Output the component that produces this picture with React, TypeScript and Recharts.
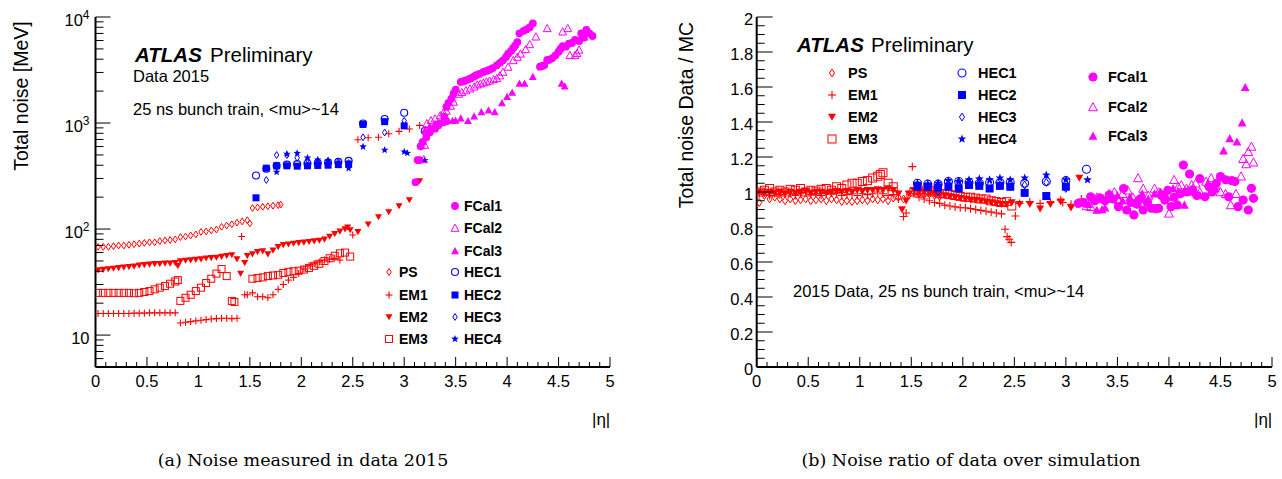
import React from 'react';
import { ScatterChart, Scatter, XAxis, YAxis } from 'recharts';

type Pt = [number, number];

// ---- (a) total noise [MeV] vs |eta| ----
const psNoise: Pt[] = [
  [0.025, 68], [0.075, 68], [0.125, 68], [0.175, 69], [0.225, 70], [0.275, 70], [0.325, 71], [0.375, 72],
  [0.425, 73], [0.475, 74], [0.525, 75], [0.575, 75], [0.625, 77], [0.675, 78], [0.725, 79], [0.775, 80],
  [0.825, 84], [0.875, 85], [0.925, 87], [0.975, 89], [1.025, 94], [1.075, 95], [1.125, 97], [1.175, 99],
  [1.225, 105], [1.275, 108], [1.325, 111], [1.375, 115], [1.425, 118], [1.475, 121], [1.5, 113],
  [1.525, 158], [1.575, 160], [1.625, 162], [1.675, 164], [1.725, 166], [1.775, 168], [1.8, 170],
];
const em1Noise: Pt[] = [
  [0.025, 16], [0.075, 16], [0.125, 16], [0.175, 16], [0.225, 16], [0.275, 16], [0.325, 16], [0.375, 16.1],
  [0.425, 16.1], [0.475, 16.1], [0.525, 16.2], [0.575, 16.2], [0.625, 16.2], [0.675, 16.2], [0.725, 16.2], [0.775, 16.2],
  [0.825, 13], [0.875, 13.2], [0.925, 13.4], [0.975, 13.6], [1.025, 13.8], [1.075, 14], [1.125, 14.2], [1.175, 14.3],
  [1.225, 14.4], [1.275, 14.4], [1.325, 14.3], [1.375, 14.4], [1.42, 85],
  [1.45, 24], [1.475, 24], [1.525, 25], [1.575, 23], [1.625, 23], [1.675, 22.5], [1.725, 24], [1.775, 27],
  [1.825, 30], [1.875, 33], [1.925, 35], [1.975, 38], [2.025, 42], [2.075, 45], [2.125, 47], [2.175, 49],
  [2.225, 51], [2.275, 52], [2.325, 53], [2.375, 51], [2.5, 88],
  [2.55, 695], [2.65, 727], [2.75, 735], [2.85, 793], [2.95, 835], [3.05, 877], [3.15, 950],
];
const em2Noise: Pt[] = [
  [0.025, 41], [0.075, 41.5], [0.125, 42], [0.175, 42.5], [0.225, 43], [0.275, 43.5], [0.325, 44], [0.375, 44.5],
  [0.425, 45.5], [0.475, 46], [0.525, 46.5], [0.575, 47], [0.625, 47], [0.675, 47.5], [0.725, 47.5], [0.775, 48],
  [0.8, 45], [0.825, 50], [0.875, 50.5], [0.925, 51], [0.975, 51.5], [1.025, 52], [1.075, 53], [1.125, 53.5],
  [1.175, 54], [1.225, 55], [1.275, 56], [1.325, 57], [1.375, 52], [1.41, 38], [1.45, 48], [1.475, 56],
  [1.525, 58], [1.575, 61], [1.625, 62], [1.675, 58], [1.725, 63], [1.775, 68], [1.825, 71], [1.875, 72],
  [1.925, 73], [1.975, 74], [2.025, 75], [2.075, 76], [2.125, 77], [2.175, 78], [2.225, 80], [2.275, 85],
  [2.325, 90], [2.375, 95], [2.425, 100], [2.45, 104], [2.475, 98], [2.55, 94],
  [2.65, 111], [2.75, 130], [2.85, 145], [2.95, 165], [3.05, 188], [3.15, 284],
];
const em3Noise: Pt[] = [
  [0.025, 25], [0.075, 25], [0.125, 25], [0.175, 25], [0.225, 25], [0.275, 25], [0.325, 25], [0.375, 24.8],
  [0.425, 25], [0.475, 25.5], [0.525, 26], [0.575, 27], [0.625, 28], [0.675, 29], [0.725, 30.5], [0.775, 32],
  [0.8, 33], [0.825, 21], [0.875, 22.5], [0.925, 24], [0.975, 26], [1.025, 28], [1.075, 31], [1.125, 34],
  [1.175, 38], [1.225, 42], [1.275, 36], [1.325, 21], [1.35, 20.5],
  [1.525, 34], [1.575, 34.5], [1.625, 35], [1.675, 36], [1.725, 36.5], [1.775, 37], [1.825, 38.5], [1.875, 39.5],
  [1.925, 40], [1.975, 40.5], [2.025, 41.5], [2.075, 43], [2.125, 45], [2.175, 47], [2.225, 50], [2.275, 53],
  [2.325, 56], [2.375, 59], [2.425, 60], [2.475, 55],
];
const hec1Noise: Pt[] = [
  [1.56, 320], [1.66, 370], [1.76, 395], [1.86, 405], [1.96, 410], [2.06, 415], [2.16, 420], [2.26, 425],
  [2.36, 430], [2.46, 440], [2.6, 990], [2.81, 1090], [3.0, 1250], [3.2, 840],
];
const hec2Noise: Pt[] = [
  [1.56, 197], [1.66, 375], [1.76, 395], [1.86, 395], [1.96, 392], [2.06, 395], [2.16, 398], [2.26, 400],
  [2.36, 405], [2.46, 410], [2.6, 970], [2.81, 1030], [3.0, 940],
];
const hec3Noise: Pt[] = [
  [1.66, 290], [1.76, 499], [1.86, 499], [1.96, 470], [2.06, 450], [2.16, 440], [2.26, 440], [2.36, 430],
  [2.46, 420], [2.6, 733], [2.81, 813], [3.0, 1050],
];
const hec4Noise: Pt[] = [
  [1.76, 345], [1.86, 510], [1.96, 520], [2.06, 470], [2.16, 450], [2.26, 440], [2.36, 420], [2.46, 375],
  [2.6, 598], [2.81, 556], [3.0, 535], [3.03, 520], [3.2, 445],
];
const fcal1Noise: Pt[] = [
  [3.11, 277], [3.13, 447], [3.15, 447], [3.16, 604], [3.18, 663], [3.215, 736], [3.25, 820], [3.3, 885],
  [3.33, 950], [3.345, 990], [3.39, 1140], [3.41, 1420], [3.43, 1550], [3.46, 1700], [3.48, 1900], [3.5, 2060],
  [3.55, 2440], [3.58, 2480], [3.6, 2530], [3.63, 2600], [3.65, 2650], [3.68, 2750], [3.7, 2830], [3.73, 2900],
  [3.77, 3030], [3.8, 3100], [3.83, 3180], [3.86, 3300], [3.9, 3500], [3.93, 3700], [3.96, 3900], [3.99, 4200],
  [4.01, 4500], [4.04, 4800], [4.06, 5100], [4.08, 5400], [4.1, 5800], [4.12, 7020], [4.16, 7400], [4.19, 7650],
  [4.22, 8000], [4.25, 8710], [4.32, 3400], [4.34, 3450], [4.36, 3500], [4.39, 3930], [4.41, 3950], [4.44, 4100],
  [4.47, 4350], [4.5, 4700], [4.52, 5030], [4.54, 5300], [4.57, 5250], [4.6, 5600], [4.63, 5690], [4.66, 6070],
  [4.7, 5940], [4.72, 7000], [4.74, 6380], [4.77, 7540], [4.8, 7000], [4.83, 6620],
];
const fcal2Noise: Pt[] = [
  [3.19, 455], [3.2, 620], [3.22, 990], [3.26, 1060], [3.3, 1100], [3.35, 1180], [3.38, 1250], [3.41, 1300],
  [3.45, 1450], [3.48, 1580], [3.53, 1880], [3.56, 1950], [3.6, 2030], [3.64, 2110], [3.68, 2200], [3.71, 2300],
  [3.74, 2350], [3.77, 2400], [3.8, 2450], [3.83, 2500], [3.87, 2580], [3.9, 2640], [3.93, 2800], [3.96, 3030],
  [4.01, 3380], [4.06, 3900], [4.1, 4200], [4.13, 4500], [4.18, 4950], [4.22, 5520], [4.28, 6520], [4.39, 7820],
  [4.54, 7270], [4.59, 7820], [4.61, 4350], [4.66, 4350], [4.68, 4550], [4.7, 4900], [4.75, 6500], [4.78, 7480],
];
const fcal3Noise: Pt[] = [
  [3.2, 850], [3.25, 940], [3.3, 990], [3.34, 1000], [3.37, 1010], [3.4, 1030], [3.43, 1050], [3.47, 1055],
  [3.5, 1060], [3.55, 1110], [3.62, 1050], [3.68, 1160], [3.75, 1270], [3.82, 1320], [3.88, 1270], [3.95, 1550],
  [4.0, 1770], [4.05, 1940], [4.12, 2360], [4.17, 2360], [4.25, 2740], [4.53, 2360], [4.56, 2230],
];

// ---- (b) total noise data / MC vs |eta| ----
const psRatio: Pt[] = [
  [0.025, 0.94], [0.075, 0.98], [0.125, 0.96], [0.175, 0.97], [0.225, 0.96], [0.275, 0.95], [0.325, 0.96], [0.375, 0.95],
  [0.425, 0.955], [0.475, 0.96], [0.525, 0.95], [0.575, 0.955], [0.625, 0.96], [0.675, 0.95], [0.725, 0.96], [0.775, 0.955],
  [0.825, 0.945], [0.875, 0.95], [0.925, 0.945], [0.975, 0.95], [1.025, 0.955], [1.075, 0.95], [1.125, 0.96], [1.175, 0.955],
  [1.225, 0.96], [1.275, 0.95], [1.325, 0.965], [1.375, 0.97], [1.425, 0.96], [1.475, 0.98],
  [1.525, 1.0], [1.575, 0.99], [1.625, 0.985], [1.675, 0.99], [1.725, 0.98], [1.775, 0.975],
];
const em1Ratio: Pt[] = [
  [0.025, 0.99], [0.075, 1.0], [0.125, 0.98], [0.175, 0.99], [0.225, 0.985], [0.275, 1.0], [0.325, 0.99], [0.375, 0.98],
  [0.425, 0.99], [0.475, 1.0], [0.525, 0.985], [0.575, 0.99], [0.625, 0.98], [0.675, 0.99], [0.725, 0.995], [0.775, 0.99],
  [0.825, 0.98], [0.875, 0.985], [0.925, 0.99], [0.975, 0.98], [1.025, 0.99], [1.075, 0.985], [1.125, 0.99], [1.175, 1.0],
  [1.225, 0.99], [1.275, 0.98], [1.325, 0.985], [1.375, 0.96], [1.425, 0.86], [1.45, 0.88], [1.51, 1.145],
  [1.525, 0.99], [1.575, 0.97], [1.625, 0.96], [1.675, 0.95], [1.725, 0.94], [1.775, 0.935], [1.825, 0.925], [1.875, 0.92],
  [1.925, 0.915], [1.975, 0.91], [2.025, 0.91], [2.075, 0.905], [2.125, 0.9], [2.175, 0.895], [2.225, 0.89], [2.275, 0.885],
  [2.325, 0.88], [2.375, 0.875], [2.41, 0.787], [2.43, 0.745], [2.45, 0.73], [2.47, 0.712], [2.51, 0.863],
  [2.55, 0.935], [2.65, 0.945], [2.75, 0.935], [2.85, 0.94], [2.95, 0.955], [2.97, 0.94], [3.05, 0.93], [3.15, 0.96],
];
const em2Ratio: Pt[] = [
  [0.025, 1.0], [0.075, 0.99], [0.125, 1.0], [0.175, 0.995], [0.225, 1.0], [0.275, 0.99], [0.325, 1.0], [0.375, 0.995],
  [0.425, 1.0], [0.475, 1.005], [0.525, 0.995], [0.575, 1.0], [0.625, 1.0], [0.675, 0.995], [0.725, 1.0], [0.775, 1.005],
  [0.825, 1.0], [0.875, 1.005], [0.925, 1.0], [0.975, 1.01], [1.025, 1.005], [1.075, 1.01], [1.125, 1.01], [1.175, 1.015],
  [1.225, 1.01], [1.275, 1.02], [1.325, 1.01], [1.375, 0.99], [1.41, 0.9], [1.45, 0.95], [1.475, 0.99],
  [1.525, 1.01], [1.575, 1.0], [1.625, 1.0], [1.675, 0.995], [1.725, 0.99], [1.775, 0.985], [1.825, 0.98], [1.875, 0.975],
  [1.925, 0.97], [1.975, 0.965], [2.025, 0.96], [2.075, 0.955], [2.125, 0.955], [2.175, 0.95], [2.225, 0.945], [2.275, 0.94],
  [2.325, 0.935], [2.375, 0.93], [2.425, 0.93], [2.475, 0.94],
  [2.55, 0.93], [2.65, 0.93], [2.75, 0.905], [2.85, 0.93], [2.95, 0.945], [3.05, 0.91], [3.13, 1.08],
];
const em3Ratio: Pt[] = [
  [0.025, 1.0], [0.075, 1.01], [0.125, 1.02], [0.175, 1.0], [0.225, 1.01], [0.275, 1.0], [0.325, 1.015], [0.375, 1.01],
  [0.425, 1.02], [0.475, 1.0], [0.525, 1.01], [0.575, 1.005], [0.625, 1.015], [0.675, 1.02], [0.725, 1.01], [0.775, 1.03],
  [0.825, 1.02], [0.875, 1.04], [0.925, 1.05], [0.975, 1.05], [1.025, 1.06], [1.075, 1.065], [1.125, 1.08], [1.175, 1.09],
  [1.2, 1.1], [1.225, 1.11], [1.275, 1.05], [1.325, 1.03],
  [1.525, 1.0], [1.575, 1.01], [1.625, 1.0], [1.675, 1.01], [1.725, 1.0], [1.775, 0.99], [1.825, 0.99], [1.875, 0.985],
  [1.925, 0.98], [1.975, 0.975], [2.025, 0.97], [2.075, 0.97], [2.125, 0.965], [2.175, 0.96], [2.225, 0.96], [2.275, 0.95],
  [2.325, 0.945], [2.375, 0.94], [2.425, 0.945], [2.475, 0.92],
];
const hec1Ratio: Pt[] = [
  [1.56, 1.05], [1.66, 1.045], [1.76, 1.045], [1.86, 1.06], [1.96, 1.06], [2.06, 1.055], [2.16, 1.05], [2.26, 1.055],
  [2.36, 1.055], [2.46, 1.055], [2.6, 1.05], [2.81, 1.06], [3.0, 1.065], [3.2, 1.13],
];
const hec2Ratio: Pt[] = [
  [1.56, 1.03], [1.66, 1.03], [1.76, 1.025], [1.86, 1.03], [1.96, 1.02], [2.06, 1.04], [2.16, 1.035], [2.26, 1.02],
  [2.36, 1.035], [2.46, 1.03], [2.6, 0.995], [2.81, 0.977], [3.0, 1.03],
];
const hec3Ratio: Pt[] = [
  [1.56, 1.04], [1.66, 1.035], [1.76, 1.0], [1.86, 1.04], [1.96, 1.06], [2.06, 1.04], [2.16, 1.04], [2.26, 1.04],
  [2.36, 1.04], [2.46, 1.03], [2.6, 1.04], [2.81, 1.055], [3.0, 1.02],
];
const hec4Ratio: Pt[] = [
  [1.56, 1.05], [1.66, 1.045], [1.76, 1.05], [1.86, 1.065], [1.96, 1.06], [2.06, 1.07], [2.16, 1.075], [2.26, 1.07],
  [2.36, 1.08], [2.46, 1.07], [2.6, 1.08], [2.81, 1.097], [3.0, 1.07], [3.21, 1.069],
];
const fcal1Ratio: Pt[] = [
  [3.12, 0.935], [3.17, 0.94], [3.24, 0.973], [3.28, 0.95], [3.33, 0.966], [3.38, 0.95], [3.42, 0.983], [3.46, 0.96],
  [3.51, 0.916], [3.56, 1.02], [3.59, 0.897], [3.63, 0.94], [3.66, 0.869], [3.69, 0.93], [3.72, 0.96], [3.75, 0.897],
  [3.79, 0.94], [3.83, 0.907], [3.87, 0.905], [3.9, 0.907], [3.93, 0.98], [3.96, 0.954], [3.99, 1.01], [4.02, 0.916],
  [4.05, 0.97], [4.08, 0.926], [4.11, 0.99], [4.14, 1.154], [4.17, 1.0], [4.2, 1.103], [4.23, 1.012], [4.27, 0.98],
  [4.3, 1.076], [4.35, 0.973], [4.39, 1.03], [4.42, 1.0], [4.46, 1.05], [4.5, 1.088], [4.55, 1.07], [4.58, 0.973],
  [4.61, 1.065], [4.64, 1.06], [4.67, 0.916], [4.72, 0.954], [4.77, 0.897], [4.8, 1.021], [4.82, 0.964],
];
const fcal2Ratio: Pt[] = [
  [3.2, 0.92], [3.24, 0.916], [3.3, 0.97], [3.36, 0.96], [3.42, 0.99], [3.47, 1.0], [3.51, 0.954], [3.55, 0.99],
  [3.6, 1.01], [3.65, 0.97], [3.7, 1.08], [3.75, 1.02], [3.8, 0.98], [3.86, 1.02], [3.9, 1.0], [3.94, 0.983],
  [4.0, 0.878], [4.05, 1.07], [4.09, 1.03], [4.12, 1.04], [4.17, 1.02], [4.22, 1.04], [4.26, 1.05], [4.3, 1.0],
  [4.36, 1.06], [4.41, 1.08], [4.45, 1.04], [4.5, 1.0], [4.55, 0.99], [4.6, 0.926], [4.65, 0.99], [4.7, 1.09],
  [4.72, 1.19], [4.75, 1.16], [4.77, 1.23], [4.8, 1.26], [4.82, 1.17],
];
const fcal3Ratio: Pt[] = [
  [3.22, 0.93], [3.3, 0.897], [3.35, 0.9], [3.38, 0.91], [3.45, 0.96], [3.5, 0.98], [3.55, 0.95], [3.62, 0.97],
  [3.68, 0.95], [3.74, 0.99], [3.8, 0.96], [3.86, 0.99], [3.92, 1.0], [3.98, 0.97], [4.04, 1.02], [4.09, 1.0],
  [4.15, 0.926], [4.22, 1.0], [4.3, 0.98], [4.38, 1.05], [4.45, 1.02], [4.53, 1.236], [4.59, 1.306], [4.66, 1.287],
  [4.71, 1.396], [4.74, 1.598],
];

// ---- axes ----
const etaTicks = Array.from({ length: 51 }, (_, i) => i / 10);
const logTicks = [
  5, 6, 7, 8, 9, 10, 20, 30, 40, 50, 60, 70, 80, 90, 100, 200, 300, 400, 500, 600, 700, 800, 900,
  1000, 2000, 3000, 4000, 5000, 6000, 7000, 8000, 9000, 10000,
];
const ratioTicks = Array.from({ length: 41 }, (_, i) => i / 20);

const RED = '#ff0000';
const BLUE = '#0000ff';
const MAG = '#ff00ff';
const FONT = "'Liberation Sans', Arial, Helvetica, sans-serif";

type Kind =
  | 'diamondOpen' | 'plus' | 'triDown' | 'squareOpen' | 'circleOpen'
  | 'squareFilled' | 'star' | 'circleFilled' | 'triOpen' | 'triFilled';

interface Series { name: string; kind: Kind; color: string; }

const detectors: Series[] = [
  { name: 'PS', kind: 'diamondOpen', color: RED },
  { name: 'EM1', kind: 'plus', color: RED },
  { name: 'EM2', kind: 'triDown', color: RED },
  { name: 'EM3', kind: 'squareOpen', color: RED },
  { name: 'HEC1', kind: 'circleOpen', color: BLUE },
  { name: 'HEC2', kind: 'squareFilled', color: BLUE },
  { name: 'HEC3', kind: 'diamondOpen', color: BLUE },
  { name: 'HEC4', kind: 'star', color: BLUE },
  { name: 'FCal1', kind: 'circleFilled', color: MAG },
  { name: 'FCal2', kind: 'triOpen', color: MAG },
  { name: 'FCal3', kind: 'triFilled', color: MAG },
];

const noiseData = [psNoise, em1Noise, em2Noise, em3Noise, hec1Noise, hec2Noise, hec3Noise, hec4Noise, fcal1Noise, fcal2Noise, fcal3Noise];
const ratioData = [psRatio, em1Ratio, em2Ratio, em3Ratio, hec1Ratio, hec2Ratio, hec3Ratio, hec4Ratio, fcal1Ratio, fcal2Ratio, fcal3Ratio];

const rows = (pts: Pt[]) => pts.map(([eta, v]) => ({ eta, v }));

function Marker({ kind, cx, cy, color, r }: { kind: Kind; cx: number; cy: number; color: string; r: number }) {
  switch (kind) {
    case 'diamondOpen':
      return (
        <polygon
          points={`${cx},${cy - r * 1.15} ${cx + r * 0.75},${cy} ${cx},${cy + r * 1.15} ${cx - r * 0.75},${cy}`}
          fill="none" stroke={color} strokeWidth={1}
        />
      );
    case 'plus':
      return (
        <g stroke={color} strokeWidth={1.1}>
          <line x1={cx - r} x2={cx + r} y1={cy} y2={cy} />
          <line x1={cx} x2={cx} y1={cy - r} y2={cy + r} />
        </g>
      );
    case 'triDown':
      return <polygon points={`${cx - r},${cy - r * 0.8} ${cx + r},${cy - r * 0.8} ${cx},${cy + r * 0.95}`} fill={color} />;
    case 'squareOpen':
      return <rect x={cx - r} y={cy - r} width={2 * r} height={2 * r} fill="none" stroke={color} strokeWidth={1} />;
    case 'circleOpen':
      return <circle cx={cx} cy={cy} r={r} fill="none" stroke={color} strokeWidth={1.1} />;
    case 'squareFilled':
      return <rect x={cx - r} y={cy - r} width={2 * r} height={2 * r} fill={color} />;
    case 'star': {
      const pts: string[] = [];
      for (let i = 0; i < 10; i++) {
        const rr = i % 2 === 0 ? r * 1.05 : r * 0.45;
        const a = -Math.PI / 2 + (i * Math.PI) / 5;
        pts.push(`${cx + rr * Math.cos(a)},${cy + rr * Math.sin(a)}`);
      }
      return <polygon points={pts.join(' ')} fill={color} />;
    }
    case 'circleFilled':
      return <circle cx={cx} cy={cy} r={r} fill={color} />;
    case 'triOpen':
      return (
        <polygon points={`${cx - r},${cy + r * 0.85} ${cx + r},${cy + r * 0.85} ${cx},${cy - r}`}
          fill="none" stroke={color} strokeWidth={1} />
      );
    case 'triFilled':
      return <polygon points={`${cx - r},${cy + r * 0.85} ${cx + r},${cy + r * 0.85} ${cx},${cy - r}`} fill={color} />;
    default:
      return null;
  }
}

const markerSize = (kind: Kind, big: boolean) => {
  const base = big ? 4 : 3.5;
  if (kind === 'diamondOpen') return base * 0.85;
  if (kind === 'star') return base + 0.3;
  if (kind === 'circleFilled') return big ? 4.6 : 3.9;
  if (kind === 'triOpen' || kind === 'triFilled') return base + 0.4;
  return base;
};

const fmt = (v: number) => String(+v.toFixed(2));

function EtaTick(props: any) {
  const { x, y, payload, top } = props;
  const v = payload.value as number;
  const major = Math.abs(v * 2 - Math.round(v * 2)) < 1e-6;
  const len = major ? 10 : 5;
  return (
    <g>
      <line x1={x} x2={x} y1={y} y2={top ? y + len : y - len} stroke="#000" strokeWidth={1} />
      {!top && major && (
        <text x={x} y={y + 20} textAnchor="middle" fontSize={16.5} fontFamily={FONT} fill="#000">
          {fmt(v)}
        </text>
      )}
    </g>
  );
}

function LogTick(props: any) {
  const { x, y, payload, right } = props;
  const v = payload.value as number;
  const e = Math.log10(v);
  const major = Math.abs(e - Math.round(e)) < 1e-6;
  const len = major ? 15 : 8;
  return (
    <g>
      <line x1={x} x2={right ? x - len : x + len} y1={y} y2={y} stroke="#000" strokeWidth={1} />
      {!right && major && (
        <text x={x - 6} y={y + 8.5} textAnchor="end" fontSize={16.5} fontFamily={FONT} fill="#000">
          10
          {Math.round(e) > 1 && (
            <tspan fontSize={12} dy={-7}>
              {Math.round(e)}
            </tspan>
          )}
        </text>
      )}
    </g>
  );
}

function RatioTick(props: any) {
  const { x, y, payload, right } = props;
  const v = payload.value as number;
  const major = Math.abs(v * 5 - Math.round(v * 5)) < 1e-6;
  const len = major ? 16 : 8;
  return (
    <g>
      <line x1={x} x2={right ? x - len : x + len} y1={y} y2={y} stroke="#000" strokeWidth={1} />
      {!right && major && (
        <text x={x - 3.5} y={y + 7.5} textAnchor="end" fontSize={16.5} fontFamily={FONT} fill="#000">
          {fmt(v)}
        </text>
      )}
    </g>
  );
}

const frame = { stroke: '#000', strokeWidth: 2 };

function Panel({ data, log, big, yWidth }: { data: Pt[][]; log: boolean; big: boolean; yWidth: number }) {
  const YTick = log ? LogTick : RatioTick;
  const yProps = log
    ? { scale: 'log' as const, domain: [5, 10000], ticks: logTicks }
    : { scale: 'linear' as const, domain: [0, 2], ticks: ratioTicks };
  return (
    <ScatterChart width={log ? 620 : 621} height={400} margin={{ top: 17, right: 10, bottom: 0, left: 0 }}>
      <XAxis
        dataKey="eta" type="number" domain={[0, 5]} ticks={etaTicks} interval={0} height={33}
        tickSize={0} tickMargin={0} tickLine={false} axisLine={frame} allowDataOverflow
        tick={(p: any) => <EtaTick {...p} />}
      />
      <XAxis
        xAxisId="top" orientation="top" type="number" domain={[0, 5]} ticks={etaTicks} interval={0} height={0}
        tickSize={0} tickMargin={0} tickLine={false} axisLine={frame} allowDataOverflow
        tick={(p: any) => <EtaTick {...p} top />}
      />
      <YAxis
        dataKey="v" type="number" {...yProps} interval={0} width={yWidth}
        tickSize={0} tickMargin={0} tickLine={false} axisLine={frame} allowDataOverflow
        tick={(p: any) => <YTick {...p} />}
      />
      <YAxis
        yAxisId="right" orientation="right" type="number" {...yProps} interval={0} width={0}
        tickSize={0} tickMargin={0} tickLine={false} axisLine={frame} allowDataOverflow
        tick={(p: any) => <YTick {...p} right />}
      />
      {detectors.map((s, i) => (
        <Scatter
          key={s.name}
          name={s.name}
          data={rows(data[i])}
          isAnimationActive={false}
          shape={(p: any) => (
            <Marker kind={s.kind} cx={p.cx} cy={p.cy} color={s.color} r={markerSize(s.kind, big)} />
          )}
        />
      ))}
    </ScatterChart>
  );
}

function Txt({ x, base, fs, children, style }: { x: number; base: number; fs: number; children: React.ReactNode; style?: React.CSSProperties }) {
  return (
    <div
      style={{
        position: 'absolute', left: x, top: base - 0.8465 * fs, fontSize: fs, lineHeight: 1,
        fontFamily: FONT, whiteSpace: 'nowrap', color: '#000', ...style,
      }}
    >
      {children}
    </div>
  );
}

function LegendEntry({ s, mx, tx, cy, fs, big }: { s: Series; mx: number; tx: number; cy: number; fs: number; big: boolean }) {
  return (
    <>
      <svg style={{ position: 'absolute', left: mx - 8, top: cy - 8 }} width={16} height={16}>
        <Marker kind={s.kind} cx={8} cy={8} color={s.color} r={markerSize(s.kind, big)} />
      </svg>
      <Txt x={tx} base={cy + 0.36 * fs} fs={fs} style={{ fontWeight: 700 }}>
        {s.name}
      </Txt>
    </>
  );
}

function VTitle({ cx, cy, children }: { cx: number; cy: number; children: React.ReactNode }) {
  return (
    <div
      style={{
        position: 'absolute', left: cx, top: cy, transform: 'translate(-50%, -50%) rotate(-90deg)',
        fontFamily: FONT, fontSize: 19.5, whiteSpace: 'nowrap', lineHeight: 1,
      }}
    >
      {children}
    </div>
  );
}

function Caption({ cx, children }: { cx: number; children: React.ReactNode }) {
  return (
    <div
      style={{
        position: 'absolute', left: cx, top: 452, transform: 'translateX(-50%)',
        fontFamily: "'DejaVu Serif', 'Liberation Serif', serif", fontSize: 17.5, whiteSpace: 'nowrap', lineHeight: 1,
      }}
    >
      {children}
    </div>
  );
}

export default function App() {
  const d = (name: string) => detectors.find((s) => s.name === name)!;
  return (
    <div style={{ position: 'absolute', left: 0, top: 0, width: 1282, height: 479, background: '#fff', overflow: 'hidden' }}>
      <div style={{ position: 'absolute', left: 0, top: 0 }}>
        <Panel data={noiseData} log big={false} yWidth={95.5} />
      </div>
      <div style={{ position: 'absolute', left: 661, top: 0 }}>
        <Panel data={ratioData} log={false} big yWidth={95.7} />
      </div>

      {/* (a) annotations */}
      <Txt x={135} base={62} fs={20.5} style={{ fontWeight: 700, fontStyle: 'italic' }}>ATLAS</Txt>
      <Txt x={210} base={62} fs={20.5}>Preliminary</Txt>
      <Txt x={133} base={81.7} fs={16.5}>Data 2015</Txt>
      <Txt x={133} base={115} fs={16.5}>25 ns bunch train, &lt;mu&gt;~14</Txt>
      {['FCal1', 'FCal2', 'FCal3'].map((n, i) => (
        <LegendEntry key={n} s={d(n)} mx={455} tx={464} cy={[206, 228, 251][i]} fs={14} big={false} />
      ))}
      {['PS', 'EM1', 'EM2', 'EM3'].map((n, i) => (
        <LegendEntry key={n} s={d(n)} mx={389} tx={399} cy={[272, 295, 317, 339][i]} fs={14} big={false} />
      ))}
      {['HEC1', 'HEC2', 'HEC3', 'HEC4'].map((n, i) => (
        <LegendEntry key={n} s={d(n)} mx={455} tx={464} cy={[272, 295, 317, 339][i]} fs={14} big={false} />
      ))}
      <VTitle cx={22} cy={96}>Total noise [MeV]</VTitle>
      <Txt x={592} base={425} fs={17}>|η|</Txt>
      <Caption cx={303}>(a) Noise measured in data 2015</Caption>

      {/* (b) annotations */}
      <Txt x={797} base={52} fs={20.5} style={{ fontWeight: 700, fontStyle: 'italic' }}>ATLAS</Txt>
      <Txt x={871} base={52} fs={20.5}>Preliminary</Txt>
      {['PS', 'EM1', 'EM2', 'EM3'].map((n, i) => (
        <LegendEntry key={n} s={d(n)} mx={832} tx={848} cy={[73, 95, 117, 139][i]} fs={14.5} big />
      ))}
      {['HEC1', 'HEC2', 'HEC3', 'HEC4'].map((n, i) => (
        <LegendEntry key={n} s={d(n)} mx={962} tx={978} cy={[73, 95, 117, 139][i]} fs={14.5} big />
      ))}
      {['FCal1', 'FCal2', 'FCal3'].map((n, i) => (
        <LegendEntry key={n} s={d(n)} mx={1093} tx={1108} cy={[77, 107, 136][i]} fs={14.5} big />
      ))}
      <Txt x={793} base={297} fs={16.5}>2015 Data, 25 ns bunch train, &lt;mu&gt;~14</Txt>
      <VTitle cx={687} cy={115}>Total noise Data / MC</VTitle>
      <Txt x={1254} base={425} fs={17}>|η|</Txt>
      <Caption cx={971}>(b) Noise ratio of data over simulation</Caption>
    </div>
  );
}
